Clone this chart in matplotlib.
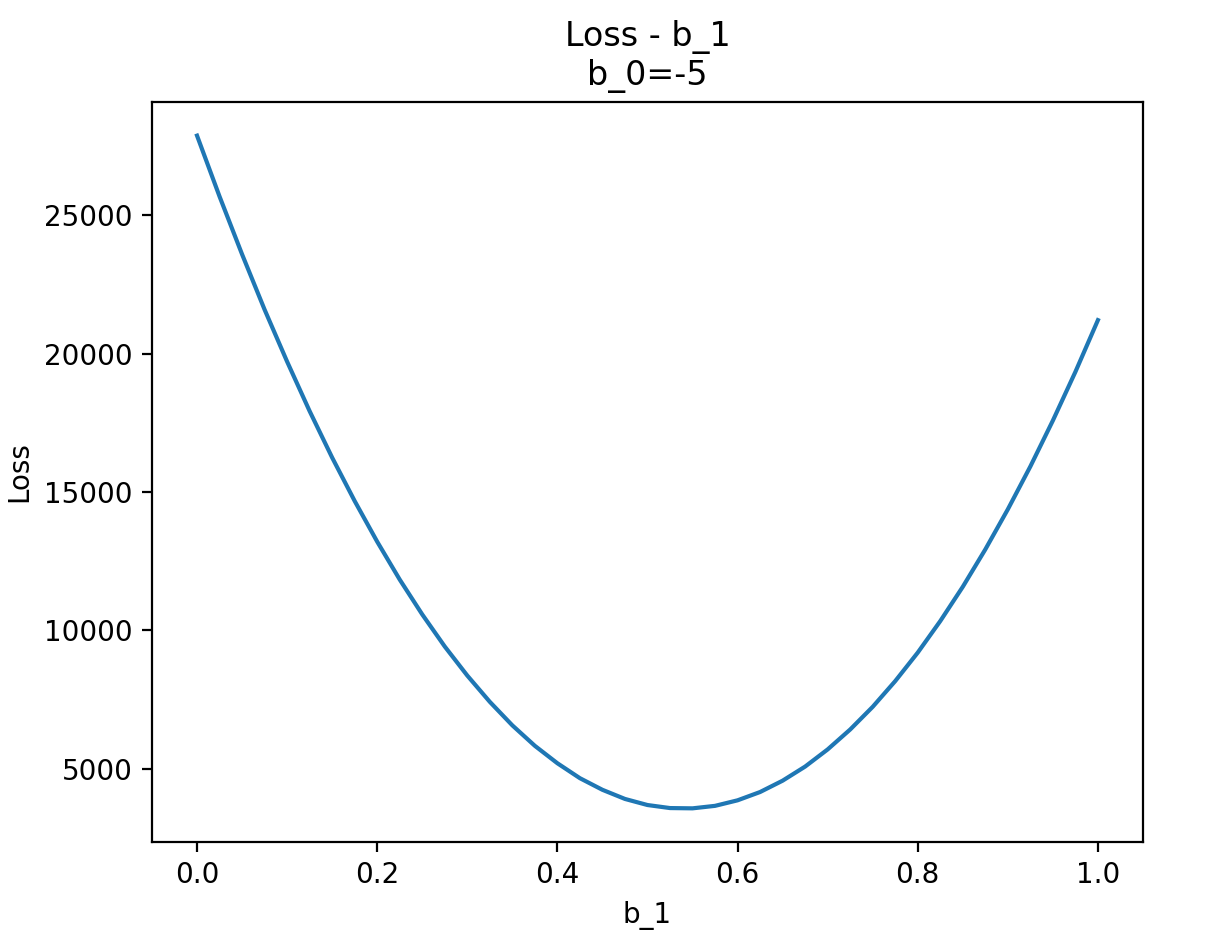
import matplotlib.pyplot as plt

# ---------- Data ----------
b_1 = [0.000, 0.025, 0.050, 0.075, 0.100, 0.125, 0.150, 0.175, 0.200, 0.225,
       0.250, 0.275, 0.300, 0.325, 0.350, 0.375, 0.400, 0.425, 0.450, 0.475,
       0.500, 0.525, 0.550, 0.575, 0.600, 0.625, 0.650, 0.675, 0.700, 0.725,
       0.750, 0.775, 0.800, 0.825, 0.850, 0.875, 0.900, 0.925, 0.950, 0.975,
       1.000]
loss = [27880, 25680, 23590, 21590, 19710, 17920, 16240, 14670, 13200, 11830,
        10570, 9410, 8360, 7410, 6560, 5820, 5190, 4650, 4230, 3900,
        3680, 3570, 3560, 3650, 3850, 4150, 4560, 5070, 5690, 6410,
        7230, 8160, 9190, 10330, 11570, 12920, 14370, 15920, 17580, 19340,
        21210]
b_0 = -5

# ---------- Figure ----------
fig, ax = plt.subplots(figsize=(6.05, 4.735), dpi=200)
fig.subplots_adjust(left=0.1256, right=0.9446, top=0.8923, bottom=0.1109)

ax.plot(b_1, loss, color='#1f77b4', linewidth=1.5)

ax.set_xlabel("b_1")
ax.set_ylabel("Loss")
ax.set_title(f"Loss - b_1\nb_0={b_0}")

fig.savefig("out.png", dpi=200)
